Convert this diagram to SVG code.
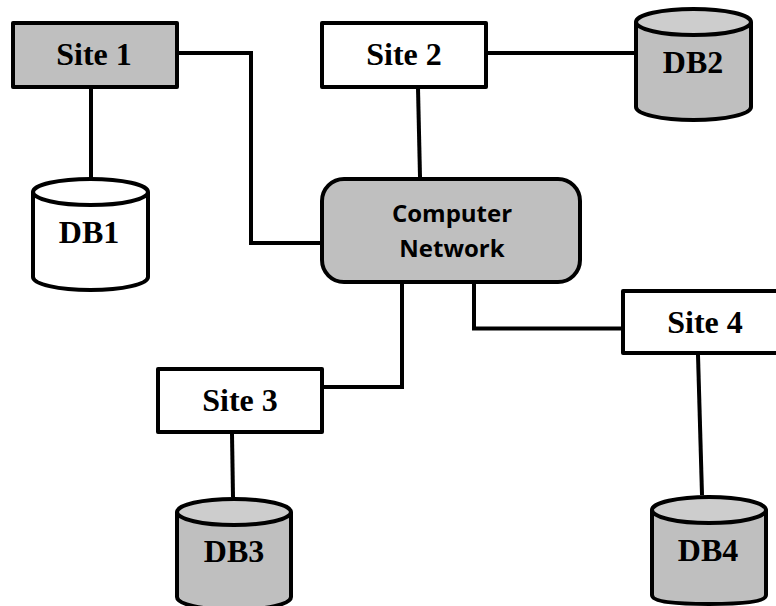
<svg xmlns="http://www.w3.org/2000/svg" width="776" height="606" viewBox="0 0 776 606">
<style>
.b{stroke:#000;stroke-width:4;stroke-linejoin:round}
.w{fill:#fff}
.g{fill:#bfbfbf}
.l{fill:#cdcdcd}
.c{fill:none;stroke:#000;stroke-width:4;stroke-linejoin:miter}
.s{font-family:"Liberation Serif",serif;font-weight:700;font-size:32px;text-anchor:middle;fill:#000}
.n{font-family:"Open Sans","Liberation Sans",sans-serif;font-weight:700;font-size:24px;text-anchor:middle;fill:#000}
</style>
<rect width="776" height="606" fill="#fff"/>
<g id="connectors">
<path class="c" d="M178 53H251V243H320"/>
<path class="c" d="M91 88V178"/>
<path class="c" d="M418 88L420 177"/>
<path class="c" d="M488 53H634"/>
<path class="c" d="M402 284V387H324"/>
<path class="c" d="M474 284V328.500H622"/>
<path class="c" d="M232 434L233 497"/>
<path class="c" d="M698 355L702 495"/>
</g>
<g id="site1"><rect class="b g" x="13" y="23" width="164" height="64" stroke-linejoin="miter"/><text class="s" x="94" y="65">Site 1</text></g>
<g id="site2"><rect class="b w" x="322" y="23" width="164" height="64"/><text class="s" x="404" y="65">Site 2</text></g>
<g id="site3"><rect class="b w" x="158" y="369" width="164" height="63"/><text class="s" x="240" y="411">Site 3</text></g>
<g id="site4"><rect class="b w" x="623" y="291" width="155" height="62"/><text class="s" x="705" y="333">Site 4</text></g>
<g id="network"><rect class="b g" x="322" y="179" width="258" height="103" rx="22"/><text class="n" x="452" y="222">Computer</text><text class="n" x="452" y="257">Network</text></g>
<g id="db1"><path class="b w" d="M33 192V277C33 284 58 290 90.500 290S148 284 148 277V192"/><ellipse class="b w" cx="90.500" cy="192" rx="57.500" ry="13"/><text class="s" x="89" y="243">DB1</text></g>
<g id="db2"><path class="b g" d="M636 22V107C636 114 661 120 693.500 120S751 114 751 107V22"/><ellipse class="b l" cx="693.500" cy="22" rx="57.500" ry="13"/><text class="s" x="693" y="73">DB2</text></g>
<g id="db3"><path class="b g" d="M177 512V597C177 604 202 610 234 610S291 604 291 597V512"/><ellipse class="b l" cx="234" cy="512" rx="57" ry="13"/><text class="s" x="234" y="562">DB3</text></g>
<g id="db4"><path class="b g" d="M652 510V595C652 602 677 604 709 604S766 602 766 595V510"/><ellipse class="b l" cx="709" cy="510" rx="57" ry="13"/><text class="s" x="708" y="561">DB4</text></g>
</svg>
